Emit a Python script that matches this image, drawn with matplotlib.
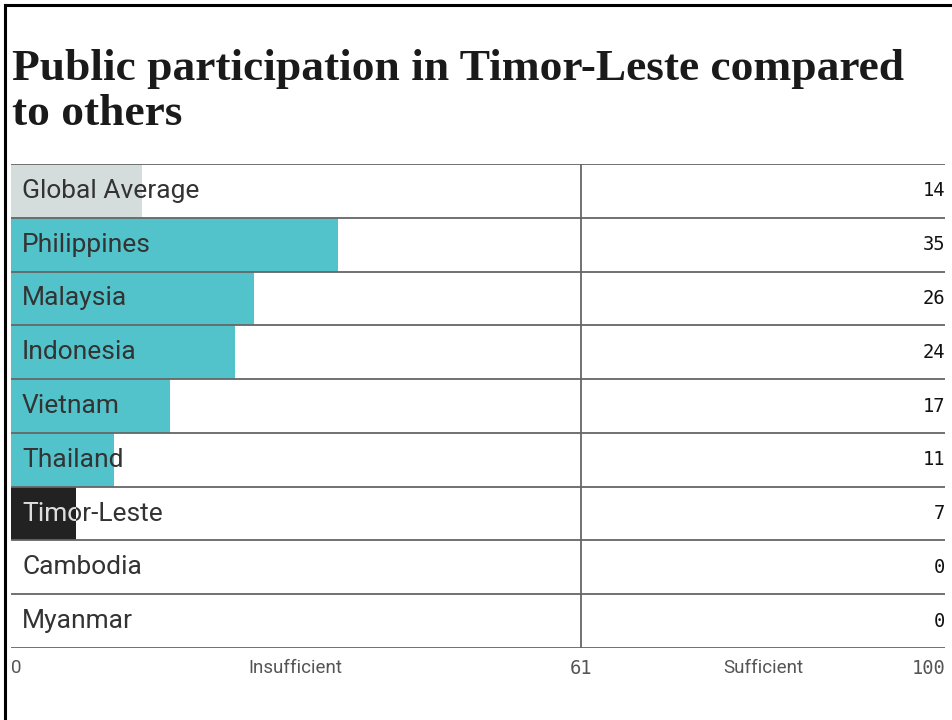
import matplotlib.pyplot as plt
from matplotlib.lines import Line2D

countries = ["Global Average", "Philippines", "Malaysia", "Indonesia", "Vietnam",
             "Thailand", "Timor-Leste", "Cambodia", "Myanmar"]
scores = [14, 35, 26, 24, 17, 11, 7, 0, 0]
threshold = 61
scale_max = 100

GRAY = "#d4dcdc"
TEAL = "#53c3cb"
DARK = "#222222"
TEXT = "#333333"
LINE = "#666666"

bar_colors = []
for c in countries:
    if c == "Global Average":
        bar_colors.append(GRAY)
    elif c == "Timor-Leste":
        bar_colors.append(DARK)
    else:
        bar_colors.append(TEAL)

W, H = 953, 720
fig = plt.figure(figsize=(W / 100, H / 100), dpi=100)

# frame on top and left edges
fig.add_artist(Line2D([5 / W, 5 / W], [0, 1 - 5 / H], color="black", lw=2.2))
fig.add_artist(Line2D([5 / W, 1], [1 - 5 / H, 1 - 5 / H], color="black", lw=2.2))

# baseline of the last title line
fig.text(12 / W, 1 - 125 / H, "Public participation in Timor-Leste compared\nto others",
         ha="left", va="baseline", fontsize=32.7, fontweight="bold",
         family="Liberation Serif", color="#1a1a1a", linespacing=1.16)

ax = fig.add_axes([11 / W, 1 - 648 / H, (945 - 11) / W, (648 - 164) / H])
n = len(countries)
ys = list(range(n))
bars = ax.barh(ys, scores, height=1.0, color=bar_colors, zorder=1)
ax.set_xlim(0, scale_max)
ax.set_ylim(n - 0.5, -0.5)
ax.axis("off")

# row separators
for k in range(n + 1):
    ax.axhline(k - 0.5, color=LINE, lw=1.3, zorder=3)
ax.plot([threshold, threshold], [-0.5, n - 0.5], color=LINE, lw=1.3, zorder=3)

for y, name, v, bar in zip(ys, countries, scores, bars):
    ax.annotate(name, (0, y), xytext=(8, 0), textcoords="offset points",
                ha="left", va="center", fontsize=19, family="Roboto",
                color=TEXT, zorder=4, annotation_clip=False)
    if name == "Timor-Leste":
        # light copy of the label, only visible over the dark bar
        t2 = ax.annotate(name, (0, y), xytext=(8, 0), textcoords="offset points",
                         ha="left", va="center", fontsize=19, family="Roboto",
                         color="#dddddd", zorder=5, annotation_clip=False)
        t2.set_clip_path(bar)
    ax.text(scale_max, y, str(v), ha="right", va="center", fontsize=13.5,
            family="DejaVu Sans Mono", color="#111111", zorder=4, clip_on=False)

# scale labels below
by = n - 0.5 + 0.38
lab = dict(va="center", fontsize=13.5, color="#555555", clip_on=False)
ax.text(0, by, "0", ha="left", family="Roboto", **lab)
ax.text(threshold / 2, by, "Insufficient", ha="center", family="Roboto", **lab)
ax.text(threshold, by, str(threshold), ha="center", family="DejaVu Sans Mono", **lab)
ax.text((threshold + scale_max) / 2, by, "Sufficient", ha="center", family="Roboto", **lab)
ax.text(scale_max, by, str(scale_max), ha="right", family="DejaVu Sans Mono", **lab)

fig.savefig("out.png", dpi=100)
